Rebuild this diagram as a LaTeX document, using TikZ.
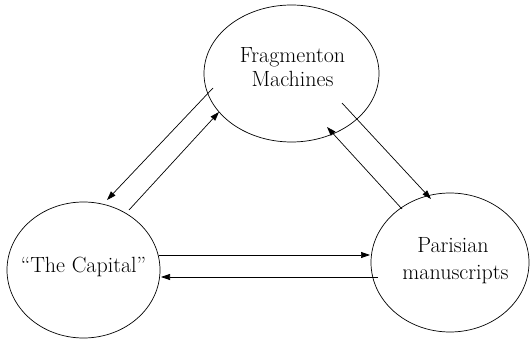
\documentclass[tikz,border=0pt]{standalone}
\usetikzlibrary{shapes.geometric,arrows.meta}
\begin{document}
\begin{tikzpicture}[x=1pt,y=-1pt,
  blob/.style={draw,ellipse,line width=0.7pt,inner sep=0pt},
  lbl/.style={anchor=base,inner sep=0pt,font=\fontsize{22}{26}\selectfont},
  flow/.style={line width=0.7pt,-{Triangle[length=9pt,width=6pt]}}]
\useasboundingbox (0,0) rectangle (530,339);
% the three ellipses
\node[blob,minimum width=175pt,minimum height=137pt] (fm) at (291.5,73.5) {};
\node[blob,minimum width=153pt,minimum height=136pt] (tc) at (83.5,270) {};
\node[blob,minimum width=158pt,minimum height=139pt] (pm) at (450,262.5) {};
% labels
\node[lbl] (fm1) at (292.5,63) {Fragmenton};
\node[lbl] (fm2) at (292.5,87) {Machines};
\node[lbl] (tcl) at (83.5,272) {``The Capital''};
\node[lbl] (pm1) at (453,252) {Parisian};
\node[lbl] (pm2) at (455.5,279) {manuscripts};
% connector end points
\coordinate (a1s) at (213,88);  \coordinate (a1e) at (107,200);
\coordinate (a2s) at (129,210); \coordinate (a2e) at (219,112);
\coordinate (b1s) at (342,103); \coordinate (b1e) at (431,199);
\coordinate (b2s) at (402,209); \coordinate (b2e) at (327,127);
\coordinate (h1s) at (159,255); \coordinate (h1e) at (370,255);
\coordinate (h2s) at (378,277); \coordinate (h2e) at (161,277);
% connectors
\draw[flow] (a1s) -- (a1e);
\draw[flow] (a2s) -- (a2e);
\draw[flow] (b1s) -- (b1e);
\draw[flow] (b2s) -- (b2e);
\draw[flow] (h1s) -- (h1e);
\draw[flow] (h2s) -- (h2e);
\end{tikzpicture}
\end{document}
